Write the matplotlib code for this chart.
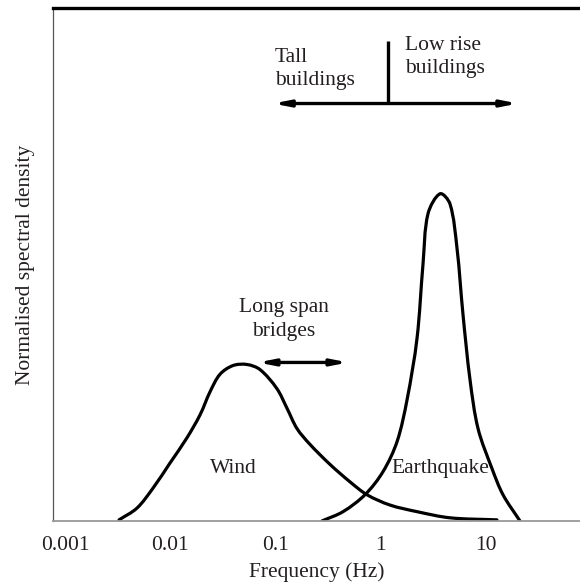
import numpy as np
import matplotlib.pyplot as plt
from matplotlib.path import Path
from matplotlib.patches import PathPatch

# Spectral shapes (frequency in Hz, normalised density)
wind_freq = [0.00326, 0.00483, 0.00686, 0.00995, 0.0144, 0.0192, 0.0239, 0.0297,
             0.0395, 0.0536, 0.0713, 0.103, 0.129, 0.160, 0.213, 0.330, 0.511,
             0.740, 1.22, 2.21, 4.55, 12.7]
wind_dens = [0.002, 0.025, 0.064, 0.113, 0.162, 0.207, 0.252, 0.286,
             0.303, 0.305, 0.295, 0.258, 0.219, 0.180, 0.149, 0.110, 0.076,
             0.051, 0.031, 0.018, 0.006, 0.002]

quake_freq = [0.277, 0.438, 0.708, 1.05, 1.43, 1.78, 2.21, 2.52, 2.81, 3.66,
              4.55, 5.30, 6.04, 7.05, 8.40, 11.4, 14.5, 21.0]
quake_dens = [0.0, 0.018, 0.051, 0.096, 0.155, 0.237, 0.356, 0.501, 0.599, 0.638,
              0.618, 0.532, 0.403, 0.275, 0.180, 0.102, 0.051, 0.0]

tick_vals = [0.001, 0.01, 0.1, 1, 10]
tick_labels = ["0.001", "0.01", "0.1", "1", "10"]

# Building / bridge frequency ranges
buildings_range = (0.095, 20.1)
buildings_level = 0.814
buildings_split = 1.17
buildings_split_top = 0.936
bridges_range = (0.068, 0.489)
bridges_level = 0.309

TXT = "#231f20"
FONT = "Liberation Serif"


def smooth_path(xs, ys, sx=105.0, sy=512.0):
    # chord-length Catmull-Rom in log10(x), scaled roughly to screen units
    pts = np.column_stack([np.log10(xs) * sx, np.asarray(ys, float) * sy])
    d = np.linalg.norm(np.diff(pts, axis=0), axis=1)
    n = len(pts)
    tang = np.zeros_like(pts)
    for i in range(n):
        if i == 0:
            tang[i] = (pts[1] - pts[0]) / d[0]
        elif i == n - 1:
            tang[i] = (pts[-1] - pts[-2]) / d[-1]
        else:
            tang[i] = (pts[i + 1] - pts[i - 1]) / (d[i - 1] + d[i])
    verts = [pts[0]]
    codes = [Path.MOVETO]
    for i in range(n - 1):
        verts += [pts[i] + tang[i] * d[i] / 3, pts[i + 1] - tang[i + 1] * d[i] / 3, pts[i + 1]]
        codes += [Path.CURVE4] * 3
    verts = np.array(verts)
    verts[:, 0] = 10 ** (verts[:, 0] / sx)
    verts[:, 1] = verts[:, 1] / sy
    return Path(verts, codes)


fig = plt.figure(figsize=(5.8, 5.82), dpi=100)
ax = fig.add_axes([0.0907, 0.105, 0.9093, 0.881])
ax.set_xscale("log")
ax.set_xlim(10 ** -3.118, 10 ** 1.893)
ax.set_ylim(0, 1)

for fx, fy in [(wind_freq, wind_dens), (quake_freq, quake_dens)]:
    ax.add_patch(PathPatch(smooth_path(fx, fy), fill=False, lw=2.3,
                           edgecolor="black", capstyle="round", joinstyle="round"))

arrow_style = dict(arrowstyle="<|-|>,head_length=0.9,head_width=0.18",
                   color="black", lw=2.4, shrinkA=0, shrinkB=0)
ax.annotate("", xy=(buildings_range[0], buildings_level),
            xytext=(buildings_range[1], buildings_level), arrowprops=arrow_style)
ax.plot([buildings_split, buildings_split], [buildings_level, buildings_split_top],
        color="black", lw=2.4, solid_capstyle="butt")
ax.annotate("", xy=(bridges_range[0], bridges_level),
            xytext=(bridges_range[1], bridges_level), arrowprops=arrow_style)

fs = 15.5
ax.text(0.098, 0.882, "Tall\nbuildings", fontsize=fs, family=FONT, color=TXT,
        ha="left", va="center", linespacing=1.3)
ax.text(1.70, 0.905, "Low rise\nbuildings", fontsize=fs, family=FONT, color=TXT,
        ha="left", va="center", linespacing=1.3)
ax.text(0.120, 0.392, "Long span\nbridges", fontsize=fs, family=FONT, color=TXT,
        ha="center", va="center", linespacing=1.35)
ax.text(0.0395, 0.102, "Wind", fontsize=fs, family=FONT, color=TXT,
        ha="center", va="center")
ax.text(3.66, 0.102, "Earthquake", fontsize=fs, family=FONT, color=TXT,
        ha="center", va="center")

ax.set_xticks(tick_vals)
ax.set_xticklabels(tick_labels, fontsize=fs, family=FONT, color=TXT)
ax.xaxis.set_minor_locator(plt.NullLocator())
ax.set_yticks([])
ax.tick_params(axis="x", length=0, pad=11)
ax.set_xlabel("Frequency (Hz)", fontsize=fs, family=FONT, color=TXT, labelpad=5)
ax.set_ylabel("Normalised spectral density", fontsize=fs, family=FONT, color=TXT,
              labelpad=13)

ax.spines["right"].set_visible(False)
ax.spines["top"].set_linewidth(2.4)
ax.spines["top"].set_color("black")
ax.spines["left"].set_linewidth(0.9)
ax.spines["left"].set_color("#555555")
ax.spines["bottom"].set_linewidth(1.3)
ax.spines["bottom"].set_color("#999999")

fig.savefig("out.png", dpi=100)
